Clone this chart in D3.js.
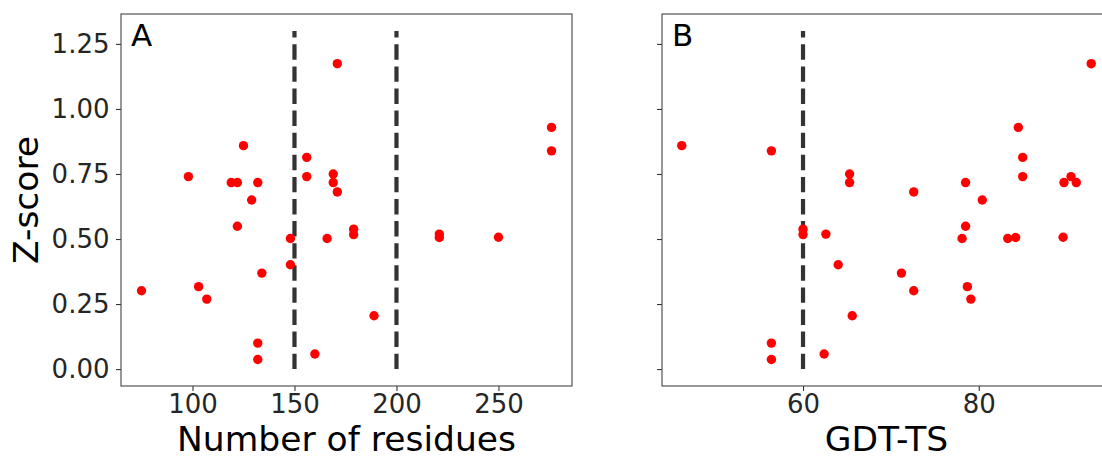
<!DOCTYPE html>
<html>
<head>
<meta charset="utf-8">
<script src="https://cdn.jsdelivr.net/npm/d3@7"></script>
<style>
  body { margin: 0; background: #fff; }
  svg { display: block; font-family: "DejaVu Sans", sans-serif; }
  .tick text { fill: #262626; }
</style>
</head>
<body>
<div id="chart"></div>
<script>
// values
const residues = [171, 276, 125, 276, 156, 169, 98, 156, 119, 122, 132, 169, 171, 129, 122, 179,
                  179, 221, 148, 166, 221, 250, 148, 134, 75, 103, 107, 189, 132, 132, 160];
const gdtTs = [92.8, 84.5, 46.2, 56.4, 85.0, 65.3, 85.0, 90.5, 65.3, 78.5, 89.7, 91.1, 72.6, 80.4, 78.5, 60.0,
               60.0, 62.6, 78.1, 83.3, 84.2, 89.6, 64.0, 71.2, 72.6, 78.7, 79.1, 65.6, 56.4, 56.4, 62.4];
const zScore = [1.174, 0.929, 0.859, 0.839, 0.814, 0.750, 0.740, 0.740, 0.717, 0.717, 0.717, 0.717, 0.681, 0.650, 0.549, 0.538,
                0.517, 0.519, 0.502, 0.502, 0.506, 0.507, 0.401, 0.369, 0.301, 0.317, 0.269, 0.205, 0.100, 0.037, 0.058];
const cutoffsA = [150, 200];
const cutoffsB = [60];
const ticksA = [100, 150, 200, 250];
const ticksB = [60, 80];
const ticksY = [0, 0.25, 0.5, 0.75, 1.0, 1.25];

const width = 1102;
const height = 459;
const plotTop = 14;
const plotBottom = 386;

const svg = d3.select('#chart')
            .append('svg')
            .attr('width', width)
            .attr('height', height);

const yScale = d3.scaleLinear()
            .domain([-0.065, 1.365])
            .range([plotBottom, plotTop]);

const panels = [
    {letter: 'A', xs: residues, cuts: cutoffsA, ticks: ticksA, label: 'Number of residues',
     domain: [64.95, 286.05], left: 121, right: 572, yLabels: true},
    {letter: 'B', xs: gdtTs, cuts: cutoffsB, ticks: ticksB, label: 'GDT-TS',
     domain: [43.95, 95.05], left: 662, right: 1111, yLabels: false}
];

panels.forEach(p => {
    const xScale = d3.scaleLinear()
                .domain(p.domain)
                .range([p.left, p.right]);

    const g = svg.append('g');

    // dashed cut-off lines
    g.selectAll('line.cut')
        .data(p.cuts)
        .enter()
        .append('line')
        .attr('class', 'cut')
        .attr('x1', d => xScale(d))
        .attr('x2', d => xScale(d))
        .attr('y1', yScale(0))
        .attr('y2', yScale(1.3))
        .attr('stroke', '#333')
        .attr('stroke-width', 4.2)
        .attr('stroke-dasharray', '15.4,6.7');

    g.selectAll('circle')
        .data(p.xs.map((x, i) => ({x: x, z: zScore[i]})))
        .enter()
        .append('circle')
        .attr('cx', d => xScale(d.x))
        .attr('cy', d => yScale(d.z))
        .attr('r', 4.7)
        .attr('fill', '#ff0000');

    const xAxis = d3.axisBottom(xScale)
                .tickValues(p.ticks)
                .tickSize(5)
                .tickPadding(4)
                .tickFormat(d3.format('d'));
    const yAxis = d3.axisLeft(yScale)
                .tickValues(ticksY)
                .tickSize(5)
                .tickPadding(6.5)
                .tickFormat(p.yLabels ? d3.format('.2f') : '');

    const gx = svg.append('g')
        .attr('transform', 'translate(0,' + plotBottom + ')')
        .call(xAxis);
    const gy = svg.append('g')
        .attr('transform', 'translate(' + p.left + ',0)')
        .call(yAxis);

    [gx, gy].forEach(a => {
        a.select('.domain').remove();
        a.selectAll('.tick line').attr('stroke', '#333').attr('stroke-width', 1.1);
        a.selectAll('.tick text').attr('font-size', 26).attr('font-family', 'DejaVu Sans');
    });

    // frame
    svg.append('rect')
        .attr('x', p.left)
        .attr('y', plotTop)
        .attr('width', p.right - p.left)
        .attr('height', plotBottom - plotTop)
        .attr('fill', 'none')
        .attr('stroke', '#444')
        .attr('stroke-width', 1.1);

    svg.append('text')
        .attr('x', p.left + 10)
        .attr('y', 46)
        .attr('font-size', 31)
        .text(p.letter);

    svg.append('text')
        .attr('x', (p.left + p.right) / 2)
        .attr('y', 451)
        .attr('text-anchor', 'middle')
        .attr('font-size', 34.5)
        .text(p.label);
});

svg.append('text')
    .attr('transform', 'translate(38,' + ((plotTop + plotBottom) / 2) + ') rotate(-90)')
    .attr('text-anchor', 'middle')
    .attr('font-size', 34.5)
    .text('Z-score');
</script>
</body>
</html>
